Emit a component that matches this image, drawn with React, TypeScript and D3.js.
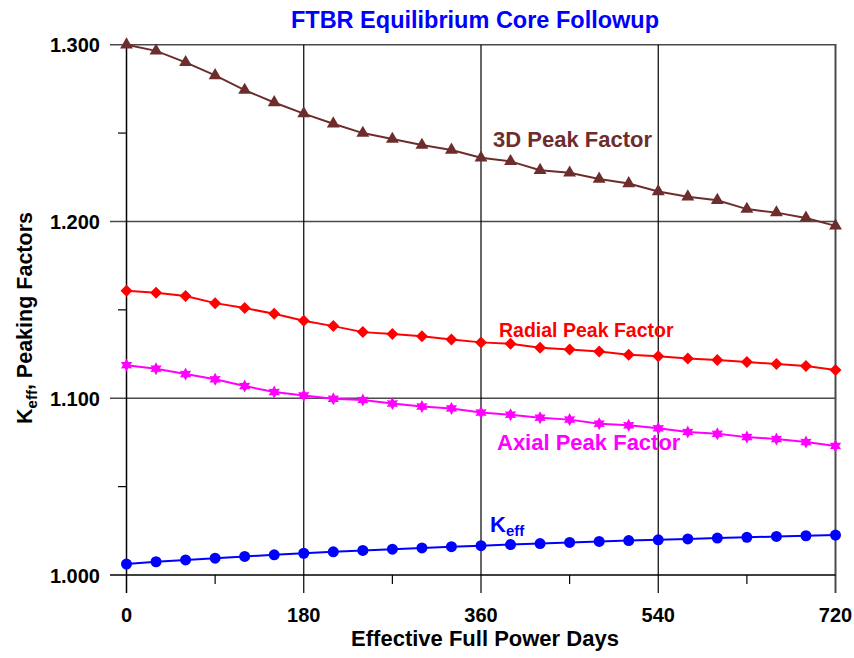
import React from "react";
import * as d3 from "d3";

// Effective full power days, one state point every 30 days
const days: number[] = [0, 30, 60, 90, 120, 150, 180, 210, 240, 270, 300, 330, 360, 390, 420, 450, 480, 510, 540, 570, 600, 630, 660, 690, 720];

const peak3D: number[] = [1.300, 1.2965, 1.290, 1.2826, 1.2743, 1.2673, 1.261, 1.2553, 1.250, 1.2466, 1.2432, 1.2404, 1.236, 1.234, 1.229, 1.2275, 1.224, 1.2215, 1.217, 1.214, 1.212, 1.207, 1.205, 1.202, 1.1975];
const radialPeak: number[] = [1.1608, 1.1597, 1.1578, 1.1538, 1.151, 1.1478, 1.1438, 1.1408, 1.1374, 1.1363, 1.135, 1.1332, 1.1316, 1.1308, 1.1285, 1.1276, 1.1265, 1.1246, 1.1237, 1.1225, 1.1216, 1.1205, 1.1193, 1.1182, 1.116];
const axialPeak: number[] = [1.1187, 1.1167, 1.1137, 1.1107, 1.1069, 1.1035, 1.1016, 1.0997, 1.099, 1.097, 1.0953, 1.0942, 1.0919, 1.0907, 1.089, 1.0879, 1.0856, 1.0847, 1.083, 1.0809, 1.0799, 1.078, 1.0769, 1.0752, 1.073];
const keff: number[] = [1.0062, 1.0075, 1.0085, 1.0095, 1.0105, 1.0114, 1.0123, 1.0131, 1.0139, 1.0146, 1.0153, 1.016, 1.0166, 1.0172, 1.0178, 1.0184, 1.019, 1.0195, 1.0199, 1.0204, 1.0209, 1.0213, 1.0218, 1.0222, 1.0226];

const xMajorTicks: number[] = [0, 180, 360, 540, 720];
const xMinorTicks: number[] = [90, 270, 450, 630];
const yMajorTicks: number[] = [1.0, 1.1, 1.2, 1.3];
const yMinorTicks: number[] = [1.05, 1.15, 1.25];

const W = 854;
const H = 658;
const FONT = "'Liberation Sans', Arial, Helvetica, sans-serif";

const BROWN = "#6e2d2d";
const RED = "#ff0000";
const MAGENTA = "#ff00ff";
const BLUE = "#0000ff";
const GRID_GRAY = "#4a4a4a";

const x = d3.scaleLinear().domain([0, 720]).range([126.5, 835.5]);
const y = d3.scaleLinear().domain([1.0, 1.3]).range([575, 44.7]);

const lineGen = d3
  .line<[number, number]>()
  .x((d) => x(d[0]))
  .y((d) => y(d[1]));

const pairs = (vals: number[]): [number, number][] => days.map((d, i) => [d, vals[i]]);

const triangle = d3.symbol(d3.symbolTriangle, 72)();
const diamond = (r: number) => `M0,${-r}L${r},0L0,${r}L${-r},0Z`;
// six-pointed star marker
const hexStar = (() => {
  const pts: string[] = [];
  const ro = 6.5;
  const ri = 3.6;
  for (let i = 0; i < 12; i++) {
    const a = (Math.PI / 6) * i - Math.PI / 2;
    const r = i % 2 === 0 ? ro : ri;
    pts.push(`${(r * Math.cos(a)).toFixed(2)},${(r * Math.sin(a)).toFixed(2)}`);
  }
  return "M" + pts.join("L") + "Z";
})();

const fmt = d3.format(".3f");

function Series({ vals, color, marker }: { vals: number[]; color: string; marker: (cx: number, cy: number, key: number) => React.ReactNode }) {
  const data = pairs(vals);
  return (
    <g>
      <path d={lineGen(data) || ""} fill="none" stroke={color} strokeWidth={2} />
      {data.map((d, i) => marker(x(d[0]), y(d[1]), i))}
    </g>
  );
}

export default function App() {
  const left = x(0);
  const right = x(720);
  const top = y(1.3);
  const bottom = y(1.0);
  return (
    <svg width={W} height={H} style={{ position: "absolute", left: 0, top: 0, background: "#fff" }} fontFamily={FONT}>
      <rect width={W} height={H} fill="#fff" />

      {/* title */}
      <text x={475} y={28} textAnchor="middle" fontSize={23.5} fontWeight="bold" fill={BLUE}>
        FTBR Equilibrium Core Followup
      </text>

      {/* horizontal grid lines, extending out as major ticks */}
      {yMajorTicks.slice(1).map((t) => (
        <line key={"hg" + t} x1={110} x2={right} y1={y(t)} y2={y(t)} stroke={GRID_GRAY} strokeWidth={1.5} />
      ))}
      {/* vertical grid lines, extending out as major ticks */}
      {xMajorTicks.slice(1, 4).map((t) => (
        <line key={"vg" + t} x1={x(t)} x2={x(t)} y1={top} y2={593} stroke="#000" strokeWidth={1.2} />
      ))}
      <line x1={right} x2={right} y1={top - 0.75} y2={593} stroke={GRID_GRAY} strokeWidth={2} />

      {/* axes */}
      <line x1={110} x2={right} y1={bottom} y2={bottom} stroke="#000" strokeWidth={1.5} />
      <line x1={left} x2={left} y1={top} y2={593} stroke="#000" strokeWidth={1.5} />

      {/* minor ticks */}
      {yMinorTicks.map((t) => (
        <line key={"ym" + t} x1={118} x2={left} y1={y(t)} y2={y(t)} stroke="#000" strokeWidth={1.2} />
      ))}
      {xMinorTicks.map((t) => (
        <line key={"xm" + t} x1={x(t)} x2={x(t)} y1={bottom} y2={584} stroke="#000" strokeWidth={1.2} />
      ))}

      {/* tick labels */}
      {yMajorTicks.map((t) => (
        <text key={"yl" + t} x={100} y={y(t) + 7.5} textAnchor="end" fontSize={20} fontWeight="bold" fill="#000">
          {fmt(t)}
        </text>
      ))}
      {xMajorTicks.map((t) => (
        <text key={"xl" + t} x={x(t)} y={622} textAnchor="middle" fontSize={20} fontWeight="bold" fill="#000">
          {t}
        </text>
      ))}

      {/* axis titles */}
      <text x={485} y={646} textAnchor="middle" fontSize={22} fontWeight="bold" fill="#000">
        Effective Full Power Days
      </text>
      <text transform="translate(32,318) rotate(-90)" textAnchor="middle" fontSize={21.5} fontWeight="bold" fill="#000">
        K<tspan fontSize={15} dy={5}>eff</tspan>
        <tspan dy={-5}>, Peaking Factors</tspan>
      </text>

      {/* data series */}
      <Series
        vals={peak3D}
        color={BROWN}
        marker={(cx, cy, k) => <path key={k} d={triangle} transform={`translate(${cx},${cy})`} fill={BROWN} />}
      />
      <Series
        vals={radialPeak}
        color={RED}
        marker={(cx, cy, k) => <path key={k} d={diamond(6)} transform={`translate(${cx},${cy})`} fill={RED} />}
      />
      <Series
        vals={axialPeak}
        color={MAGENTA}
        marker={(cx, cy, k) => <path key={k} d={hexStar} transform={`translate(${cx},${cy})`} fill={MAGENTA} />}
      />
      <Series
        vals={keff}
        color={BLUE}
        marker={(cx, cy, k) => <circle key={k} cx={cx} cy={cy} r={5.5} fill={BLUE} />}
      />

      {/* series labels */}
      <text x={493} y={147} fontSize={22} fontWeight="bold" fill={BROWN}>
        3D Peak Factor
      </text>
      <text x={499} y={337} fontSize={19.5} fontWeight="bold" fill={RED}>
        Radial Peak Factor
      </text>
      <text x={497} y={450} fontSize={22} fontWeight="bold" fill={MAGENTA}>
        Axial Peak Factor
      </text>
      <text x={490} y={532} fontSize={22} fontWeight="bold" fill={BLUE}>
        K<tspan fontSize={15} dy={4}>eff</tspan>
      </text>
    </svg>
  );
}
